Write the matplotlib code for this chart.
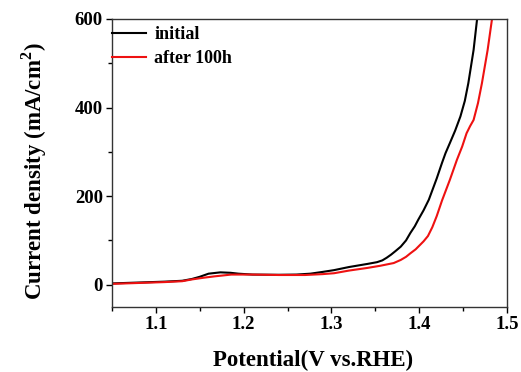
import matplotlib.pyplot as plt
from matplotlib.ticker import MultipleLocator

plt.rcParams['font.family'] = 'Liberation Serif'
plt.rcParams['font.weight'] = 'bold'
plt.rcParams['mathtext.fontset'] = 'custom'
plt.rcParams['mathtext.rm'] = 'Liberation Serif:bold'

# LSV curves, potential (V vs RHE) and current density (mA/cm2)
v_init = [1.05, 1.08, 1.11, 1.13, 1.141, 1.15, 1.16, 1.1735, 1.185, 1.194, 1.21, 1.24,
          1.26, 1.276, 1.29, 1.303, 1.32, 1.341, 1.352, 1.358, 1.363, 1.368, 1.373, 1.379,
          1.385, 1.390, 1.395, 1.399, 1.405, 1.411, 1.42, 1.426, 1.430, 1.435, 1.441,
          1.447, 1.452, 1.456, 1.462, 1.466]
j_init = [3, 5, 7, 9, 13, 18, 25, 28, 27, 25, 23, 22.5, 23, 25, 29, 33, 40, 47, 51, 55,
          61, 68, 76, 86, 100, 117, 132, 147, 168, 192, 240, 275, 297, 320, 348, 380, 415,
          455, 530, 600]

v_aged = [1.05, 1.08, 1.11, 1.13, 1.141, 1.155, 1.167, 1.186, 1.21, 1.24, 1.27, 1.29,
          1.303, 1.32, 1.341, 1.356, 1.371, 1.379, 1.385, 1.390, 1.396, 1.401, 1.405,
          1.41, 1.415, 1.42, 1.426, 1.435, 1.443, 1.449, 1.454, 1.458, 1.462, 1.467,
          1.4715, 1.478, 1.483]
j_aged = [2, 4, 6, 8, 12, 16, 19, 23, 23, 22, 22, 24, 26, 32, 38, 43, 49, 56, 63, 71, 80,
          90, 98, 110, 130, 155, 190, 237, 282, 312, 342, 358, 372, 410, 455, 530, 600]

fig = plt.figure(figsize=(5.21, 3.72), dpi=100)
ax = fig.add_axes([0.215, 0.175, 0.758, 0.774])

ax.plot(v_init, j_init, color='black', lw=1.5, label='initial')
ax.plot(v_aged, j_aged, color='#ee1111', lw=1.5, label='after 100h')

ax.set_xlim(1.05, 1.5)
ax.set_ylim(-50, 600)
ax.xaxis.set_major_locator(MultipleLocator(0.1))
ax.xaxis.set_minor_locator(MultipleLocator(0.05))
ax.yaxis.set_major_locator(MultipleLocator(200))
ax.yaxis.set_minor_locator(MultipleLocator(100))
ax.tick_params(which='major', direction='out', length=4.5, width=1, labelsize=13.5, pad=2)
ax.tick_params(which='minor', direction='out', length=3, width=1)

for s in ax.spines.values():
    s.set_linewidth(1)
    s.set_color('#333333')

ax.set_xlabel('Potential(V vs.RHE)', fontsize=16.5, fontweight='bold')
ax.set_ylabel('Current density (mA/cm$^2$)', fontsize=16.5, fontweight='bold')
ax.xaxis.set_label_coords(0.51, -0.148)
ax.yaxis.set_label_coords(-0.16, 0.47)

ax.legend(loc='upper left', bbox_to_anchor=(0, 0.975), frameon=False,
          borderpad=0, borderaxespad=0, handlelength=1.9, handletextpad=0.45,
          labelspacing=0.4, prop={'weight': 'bold', 'size': 13})

fig.savefig('out.png', dpi=100)
